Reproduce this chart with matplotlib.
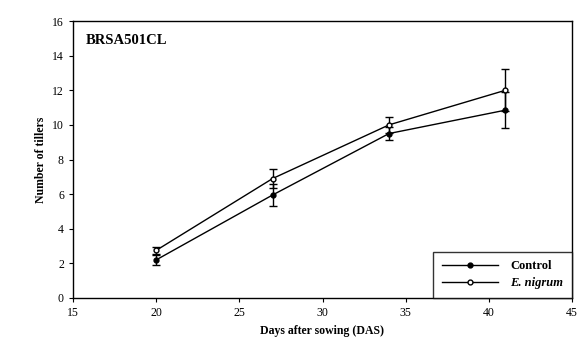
import matplotlib
matplotlib.use('Agg')
import matplotlib.pyplot as plt
from matplotlib.lines import Line2D

plt.rcParams['font.family'] = 'Liberation Serif'

# data
das = [20, 27, 34, 41]
control = [2.2, 5.95, 9.5, 10.85]
control_err = [0.3, 0.65, 0.4, 1.05]
nigrum = [2.75, 6.9, 10.0, 12.0]
nigrum_err = [0.2, 0.55, 0.45, 1.2]

fig = plt.figure(figsize=(5.84, 3.49), dpi=100)
ax = fig.add_axes([73/584, 1 - 298/349, 499/584, 277/349])

ax.errorbar(das, control, yerr=control_err, color='black', marker='o', markersize=3.5,
            markerfacecolor='black', lw=1, capsize=3, elinewidth=1)
ax.errorbar(das, nigrum, yerr=nigrum_err, color='black', marker='o', markersize=3.5,
            markerfacecolor='white', lw=1, capsize=3, elinewidth=1)

ax.set_xlim(15, 45)
ax.set_ylim(0, 16)
ax.set_xticks([15, 20, 25, 30, 35, 40, 45])
ax.set_yticks(range(0, 17, 2))
ax.tick_params(direction='out', length=3, labelsize=8.5)
for s in ax.spines.values():
    s.set_linewidth(1)

ax.set_xlabel('Days after sowing (DAS)', fontsize=8.5, fontweight='bold')
ax.set_ylabel('Number of tillers', fontsize=8.5, fontweight='bold')
ax.text(0.025, 0.93, 'BRSA501CL', transform=ax.transAxes, fontsize=10.5,
        fontweight='bold', va='center')

handles = [Line2D([], [], color='black', lw=1, marker='o', markersize=3.5, markerfacecolor='black'),
           Line2D([], [], color='black', lw=1, marker='o', markersize=3.5, markerfacecolor='white')]
leg = ax.legend(handles, ['Control', 'E. nigrum'], loc='lower right', frameon=True,
                fancybox=False, borderaxespad=0, handlelength=4.5, borderpad=0.7,
                handletextpad=1.0, labelspacing=0.4, prop={'weight': 'bold', 'size': 9})
leg.get_frame().set_edgecolor('black')
leg.get_frame().set_linewidth(1)
leg.get_texts()[1].set_style('italic')

fig.savefig('out.png', dpi=100)
